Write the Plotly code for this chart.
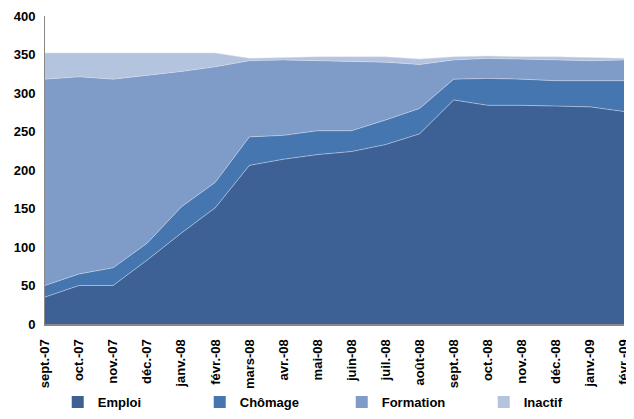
import plotly.graph_objects as go

months = ["sept.-07", "oct.-07", "nov.-07", "déc.-07", "janv.-08", "févr.-08", "mars-08", "avr.-08",
          "mai-08", "juin-08", "juil.-08", "août-08", "sept.-08", "oct.-08", "nov.-08", "déc.-08",
          "janv.-09", "févr.-09"]
emploi = [35, 50, 50, 83, 118, 151, 206, 214, 220, 224, 233, 247, 291, 284, 284, 283, 282, 276]
chomage = [15, 15, 23, 22, 34, 33, 37, 31, 31, 27, 32, 33, 27, 35, 34, 33, 34, 40]
formation = [268, 256, 245, 218, 176, 150, 99, 98, 91, 90, 75, 57, 25, 26, 26, 27, 26, 27]
inactif = [34, 31, 34, 29, 24, 18, 3, 3, 5, 6, 7, 7, 4, 3, 3, 4, 4, 2]
yticks = [0, 50, 100, 150, 200, 250, 300, 350, 400]

series = [("Emploi", emploi, "#3d6195"), ("Chômage", chomage, "#4676b0"),
          ("Formation", formation, "#7f9bc8"), ("Inactif", inactif, "#b4c3de")]

font_family = "Liberation Sans Narrow, Liberation Sans, Arial, sans-serif"
xs = list(range(len(months)))

fig = go.Figure()
for name, vals, col in series:
    fig.add_trace(go.Scatter(
        x=xs, y=vals, name=name, stackgroup="one", showlegend=False,
        mode="lines", line=dict(color="rgba(220,228,240,0.8)", width=0.6),
        fillcolor=col, hoverinfo="x+y+name",
    ))
# legend entries (square swatches)
for name, vals, col in series:
    fig.add_trace(go.Bar(x=[None], y=[None], name=name, marker=dict(color=col, line=dict(width=0)),
                         showlegend=True))

# the page body has an 8px margin, so the figure is sized 626x411
fig.update_layout(
    width=626, height=411,
    margin=dict(l=37, r=10, t=8, b=95, autoexpand=False),
    paper_bgcolor="white", plot_bgcolor="white",
    showlegend=True,
    legend=dict(orientation="h", x=0.022, xanchor="left",
                yref="container", y=0.078, yanchor="top",
                bgcolor="rgba(0,0,0,0)",
                font=dict(family=font_family, size=13, color="#000000", weight="bold"),
                entrywidth=97, entrywidthmode="pixels", itemwidth=30, traceorder="normal"),
    font=dict(family="Liberation Sans, Arial, sans-serif", color="#000000"),
)
fig.update_xaxes(
    tickmode="array", tickvals=xs, ticktext=months,
    tickangle=-90, range=[0, len(months) - 1 + 1e-6], automargin=False,
    showgrid=False, zeroline=False, showline=True, linecolor="#888888", linewidth=2,
    ticks="", ticklabelstandoff=8, ticklabeloverflow="allow",
    tickfont=dict(family=font_family, size=13, color="#000000", weight="bold"),
)
fig.update_yaxes(
    range=[0, 400], tickvals=yticks, automargin=False,
    showgrid=False, zeroline=False, showline=True, linecolor="#888888", linewidth=1,
    ticks="", ticklabelstandoff=6,
    tickfont=dict(family="Liberation Sans, Arial, sans-serif", size=13, color="#000000", weight="bold"),
)

fig.write_html("out.html")
